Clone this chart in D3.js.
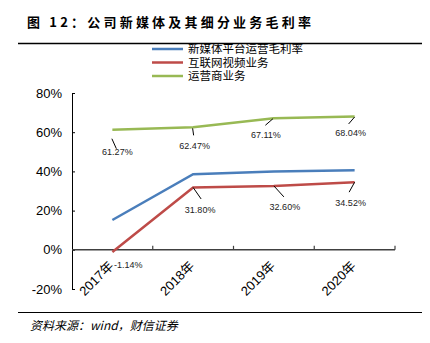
<!DOCTYPE html>
<html><head><meta charset="utf-8">
<script src="https://cdn.jsdelivr.net/npm/d3@7"></script>
<style>
html,body{margin:0;padding:0;background:#fff;}
svg{display:block;}
</style></head>
<body>
<svg id="c" width="430" height="343"></svg>
<script>
const categories = ["2017年", "2018年", "2019年", "2020年"];
const seriesNames = ["新媒体平台运营毛利率", "互联网视频业务", "运营商业务"];
const blueValues = [15.2, 38.6, 39.9, 40.6];
const redValues = [-1.14, 31.80, 32.60, 34.52];
const greenValues = [61.27, 62.47, 67.11, 68.04];
const yTicks = [-20, 0, 20, 40, 60, 80];
const title = "图 12：公司新媒体及其细分业务毛利率";
const source = "资料来源：wind，财信证券";

const colors = ["#4A7EBB", "#BE4B48", "#98B954"];
const FONT = "'Liberation Sans', Arial, 'Noto Sans CJK SC', sans-serif";
const CJK = "'Noto Sans CJK SC', 'Liberation Sans', sans-serif";

const svg = d3.select("#c");

// Title and rules
svg.append("text").attr("x", 27).attr("y", 27)
  .attr("font-family", CJK).attr("font-weight", "bold").attr("font-size", 13)
  .attr("letter-spacing", 3.2).attr("fill", "#000").text(title);
svg.append("line").attr("x1", 18).attr("x2", 422).attr("y1", 43.5).attr("y2", 43.5)
  .attr("stroke", "#000").attr("stroke-width", 1.5);
svg.append("line").attr("x1", 18).attr("x2", 422).attr("y1", 312.5).attr("y2", 312.5)
  .attr("stroke", "#000").attr("stroke-width", 1.2);
svg.append("text").attr("x", 30).attr("y", 330)
  .attr("font-family", CJK).attr("font-style", "italic").attr("font-size", 12)
  .attr("fill", "#000").text(source);

// Scales
const x = d3.scaleBand().domain(categories).range([72, 395]).padding(0);
const y = d3.scaleLinear().domain([-20, 80]).range([289, 93]);
const cx = c => x(c) + x.bandwidth() / 2;

// Y axis
const yAxis = d3.axisLeft(y).tickValues(yTicks).tickFormat(d => d + "%")
  .tickSize(-3).tickSizeOuter(-3).tickPadding(10);
const gy = svg.append("g").attr("transform", "translate(72,0)").call(yAxis);
gy.selectAll("path,line").attr("stroke", "#000").attr("stroke-width", 1);
gy.selectAll("text").attr("font-family", FONT).attr("font-size", 13).attr("fill", "#000");

// X axis at zero
const y0 = y(0);
svg.append("line").attr("x1", x.range()[0]).attr("x2", x.range()[1])
  .attr("y1", y0).attr("y2", y0).attr("stroke", "#404040").attr("stroke-width", 1.5);
const bounds = categories.slice(1).map(c => x(c)).concat([x.range()[1]]);
svg.selectAll(".xt").data(bounds).enter().append("line")
  .attr("x1", d => d).attr("x2", d => d).attr("y1", y0).attr("y2", y0 - 4)
  .attr("stroke", "#404040").attr("stroke-width", 1.2);
svg.selectAll(".xl").data(categories).enter().append("text")
  .attr("transform", d => `translate(${cx(d) + 2},${y0 + 17}) rotate(-45)`)
  .attr("text-anchor", "end").attr("font-family", FONT).attr("font-size", 13)
  .attr("fill", "#000").text(d => d);

// Lines
const line = d3.line().x((d, i) => cx(categories[i])).y(d => y(d));
[blueValues, redValues, greenValues].forEach((vals, k) => {
  svg.append("path").datum(vals).attr("d", line).attr("fill", "none")
    .attr("stroke", colors[k]).attr("stroke-width", 2.5);
});

// Data labels: layout offsets (dx, dy of text; leader from l0 to l1)
const redLayout = [
  {tx: 16, ty: 12.5, lead: null},
  {tx: 7, ty: 22.5, lead: [0, 0, 8, 11.5]},
  {tx: 11, ty: 21.5, lead: [0, 0, 10, 11]},
  {tx: -4, ty: 21, lead: [0, 0, -5.5, 10]}
];
const greenLayout = [
  {tx: 5, ty: 22.5, lead: [-0.5, 9, 4, 19]},
  {tx: 1.5, ty: 19, lead: [-0.5, 1, 0.5, 8]},
  {tx: -8, ty: 16.5, lead: [-1, 0.5, -8.5, 7]},
  {tx: -4, ty: 16.5, lead: [0, 0.5, -6, 7.5]}
];
function labels(vals, layout) {
  vals.forEach((v, i) => {
    const px = cx(categories[i]), py = y(v), L = layout[i];
    if (L.lead) {
      svg.append("line").attr("x1", px + L.lead[0]).attr("y1", py + L.lead[1])
        .attr("x2", px + L.lead[2]).attr("y2", py + L.lead[3])
        .attr("stroke", "#000").attr("stroke-width", 1);
    }
    svg.append("text").attr("x", px + L.tx).attr("y", py + L.ty)
      .attr("text-anchor", "middle").attr("dominant-baseline", "central")
      .attr("font-family", FONT).attr("font-size", 9).attr("fill", "#222")
      .text(v.toFixed(2) + "%");
  });
}
labels(redValues, redLayout);
labels(greenValues, greenLayout);

// Legend
const leg = svg.append("g");
seriesNames.forEach((n, k) => {
  const ly = 49 + k * 13.5;
  leg.append("line").attr("x1", 152).attr("x2", 183).attr("y1", ly).attr("y2", ly)
    .attr("stroke", colors[k]).attr("stroke-width", 2.5);
  leg.append("text").attr("x", 188).attr("y", ly + 4.3)
    .attr("font-family", FONT).attr("font-size", 11.5).attr("fill", "#000").text(n);
});
</script>
</body></html>
